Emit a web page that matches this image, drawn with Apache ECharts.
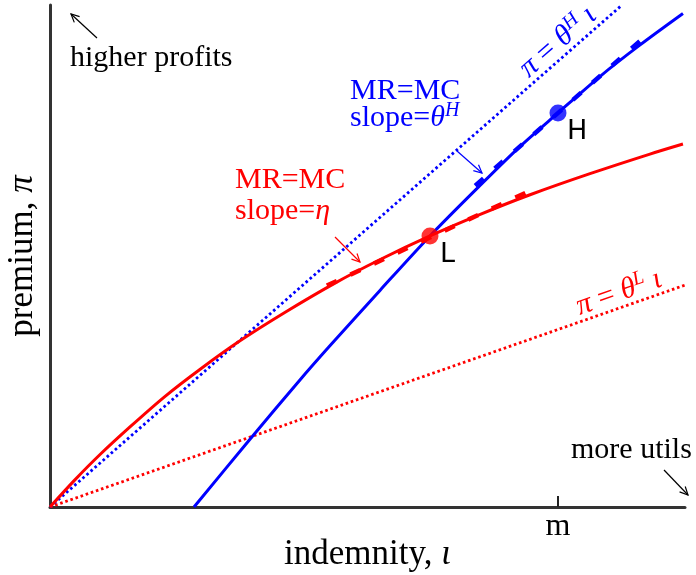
<!DOCTYPE html>
<html><head><meta charset="utf-8">
<script src="https://cdn.jsdelivr.net/npm/echarts@6/dist/echarts.min.js"></script>
<style>html,body{margin:0;padding:0;background:#fff}#c{width:696px;height:575px}</style>
</head><body><div id="c"></div>
<script>
// ---- data (indemnity on x, premium on y; m = 1) ----
const xMax = 1.25, yMax = 1;
const mTicks = [1];
const mLabel = 'm';
const redCurve = [[0,0],[0.049,0.054],[0.098,0.104],[0.158,0.160],[0.226,0.220],[0.295,0.274],[0.374,0.331],[0.463,0.388],[0.561,0.446],[0.650,0.493],[0.748,0.540],[0.847,0.583],[0.945,0.622],[1.063,0.664],[1.181,0.703],[1.246,0.723]];
const blueCurve = [[0.2835,0],[0.392,0.133],[0.492,0.253],[0.551,0.321],[0.650,0.432],[0.748,0.540],[0.847,0.641],[0.925,0.718],[1.0,0.785],[1.083,0.858],[1.161,0.920],[1.246,0.983]];
const rayH = [[0,0],[1.126,1.0]];
const rayL = [[0,0],[1.25,0.442]];
const tangentL = [[0.545,0.441],[0.945,0.630]];
const tangentH = [[0.837,0.640],[1.161,0.928]];
const pointL = [0.748,0.540];
const pointH = [1.0,0.785];

const RED = '#ff0000', BLUE = '#0000ff', INK = '#000000', AXIS = '#333333';
const SERIF = "'Liberation Serif','DejaVu Serif',serif";
const SANS = "'DejaVu Sans','Liberation Sans',sans-serif";

// annotation texts (anchored in data coordinates)
const notes = [
  {text:'higher profits', at:[0.0394,0.8944], color:INK},
  {text:'more utils', at:[1.0256,0.1135], color:INK},
  {text:'MR=MC', at:[0.5906,0.8287], color:BLUE},
  {text:'slope={i|θ}{s|H}', at:[0.5906,0.7749], color:BLUE},
  {text:'MR=MC', at:[0.3642,0.6514], color:RED},
  {text:'slope={i|η}', at:[0.3642,0.5896], color:RED},
  {text:'H', at:[1.0177,0.7470], color:INK, sans:true},
  {text:'L', at:[0.7677,0.5020], color:INK, sans:true},
  {text:'{i|π} = {i|θ}{s|H} {i|ι}', at:[1.0,0.9263], color:BLUE, along:rayH, center:true},
  {text:'{i|π} = {i|θ}{s|L} {i|ι}', at:[1.1201,0.4263], color:RED, along:rayL, center:true}
];
const arrows = [
  {from:[0.0925,0.9343], to:[0.0413,0.9821], color:INK},
  {from:[1.2087,0.0737], to:[1.2559,0.0239], color:INK},
  {from:[0.8012,0.7092], to:[0.8504,0.6653], color:BLUE},
  {from:[0.5610,0.5378], to:[0.6102,0.4880], color:RED}
];

const chart = echarts.init(document.getElementById('c'), null, {renderer:'canvas'});
const lineS = (name, data, color, width, type, smooth, z) => ({
  name, type:'line', data, showSymbol:false, symbol:'none', smooth: smooth || false,
  lineStyle:{color, width, type: type || 'solid', cap:'butt'}, z: z || 2, silent:true
});
chart.setOption({
  animation:false,
  grid:{left:50, right:11, top:5, bottom:68, containLabel:false, outerBoundsMode:'none'},
  xAxis:{type:'value', min:0, max:xMax, interval:1,
    name:'indemnity, {i|ι}', nameLocation:'middle', nameGap:30, nameMoveOverlap:false,
    nameTextStyle:{fontSize:35, fontFamily:SERIF, color:INK, rich:{i:{fontSize:35, fontFamily:SERIF, fontStyle:'italic', color:INK}}},
    axisLine:{show:true, onZero:false, lineStyle:{color:AXIS, width:3}},
    axisTick:{show:true, inside:true, length:11, customValues:mTicks, lineStyle:{color:'#222', width:2}},
    axisLabel:{show:true, customValues:mTicks, margin:4, fontSize:32, fontFamily:SERIF, color:INK,
      formatter:v => (Math.abs(v-1)<1e-9 ? mLabel : '')},
    splitLine:{show:false}},
  yAxis:{type:'value', min:0, max:yMax,
    name:'premium, {i|π}', nameLocation:'middle', nameGap:10, nameMoveOverlap:false,
    nameTextStyle:{fontSize:35, fontFamily:SERIF, color:INK, rich:{i:{fontSize:35, fontFamily:SERIF, fontStyle:'italic', color:INK}}},
    axisLine:{show:true, onZero:false, lineStyle:{color:AXIS, width:3}},
    axisTick:{show:false}, axisLabel:{show:false}, splitLine:{show:false}},
  series:[
    lineS('rayL', rayL, RED, 2.8, [2.6,2.8]),
    lineS('rayH', rayH, BLUE, 2.8, [2.6,2.8]),
    lineS('blue', blueCurve, BLUE, 3, 'solid', 0.3, 3),
    lineS('red', redCurve, RED, 3, 'solid', 0.3, 3),
    lineS('tanH', tangentH, BLUE, 4.5, [11,15], false, 4),
    lineS('tanL', tangentL, RED, 4.5, [11,15], false, 4),
    {type:'scatter', data:[pointL], symbolSize:17, itemStyle:{color:RED}, z:5, silent:true},
    {type:'scatter', data:[pointH], symbolSize:17, itemStyle:{color:BLUE}, z:5, silent:true}
  ]
});

const P = p => chart.convertToPixel({gridIndex:0}, p);
const g = [];
notes.forEach(n => {
  const p = P(n.at);
  let rot = 0;
  if (n.along) {
    const a = P(n.along[0]), b = P(n.along[1]);
    rot = Math.atan2(-(b[1]-a[1]), b[0]-a[0]);
  }
  const fam = n.sans ? SANS : SERIF;
  const fs = n.sans ? 27 : 30;
  const ss = n.sans ? 19 : 20;
  g.push({type:'text', x:p[0], y:p[1], rotation:rot, z:10, silent:true,
    style:{text:n.text, x:0, y:0, align:n.center?'center':'left', verticalAlign:'middle',
      fill:n.color, fontSize:fs, fontFamily:fam, lineHeight:38,
      rich:{
        i:{fill:n.color, fontSize:fs, fontFamily:fam, fontStyle:'italic', lineHeight:38},
        s:{fill:n.color, fontSize:ss, fontFamily:fam, fontStyle:'italic', verticalAlign:'top', lineHeight:20, padding:[2,0,0,0]}
      }}});
});
arrows.forEach(a => {
  const p1 = P(a.from), p2 = P(a.to);
  const dx = p2[0]-p1[0], dy = p2[1]-p1[1], L = Math.hypot(dx,dy);
  const ux = dx/L, uy = dy/L, hl = 9, ang = 0.45;
  const h = s => [p2[0] - hl*(ux*Math.cos(ang) - s*uy*Math.sin(ang)), p2[1] - hl*(uy*Math.cos(ang) + s*ux*Math.sin(ang))];
  g.push({type:'polyline', z:10, silent:true, shape:{points:[p1,p2]}, style:{stroke:a.color, lineWidth:1.2, fill:null}});
  g.push({type:'polyline', z:10, silent:true, shape:{points:[h(1),p2,h(-1)]}, style:{stroke:a.color, lineWidth:1.2, fill:null}});
});
chart.setOption({graphic:g});
</script></body></html>
